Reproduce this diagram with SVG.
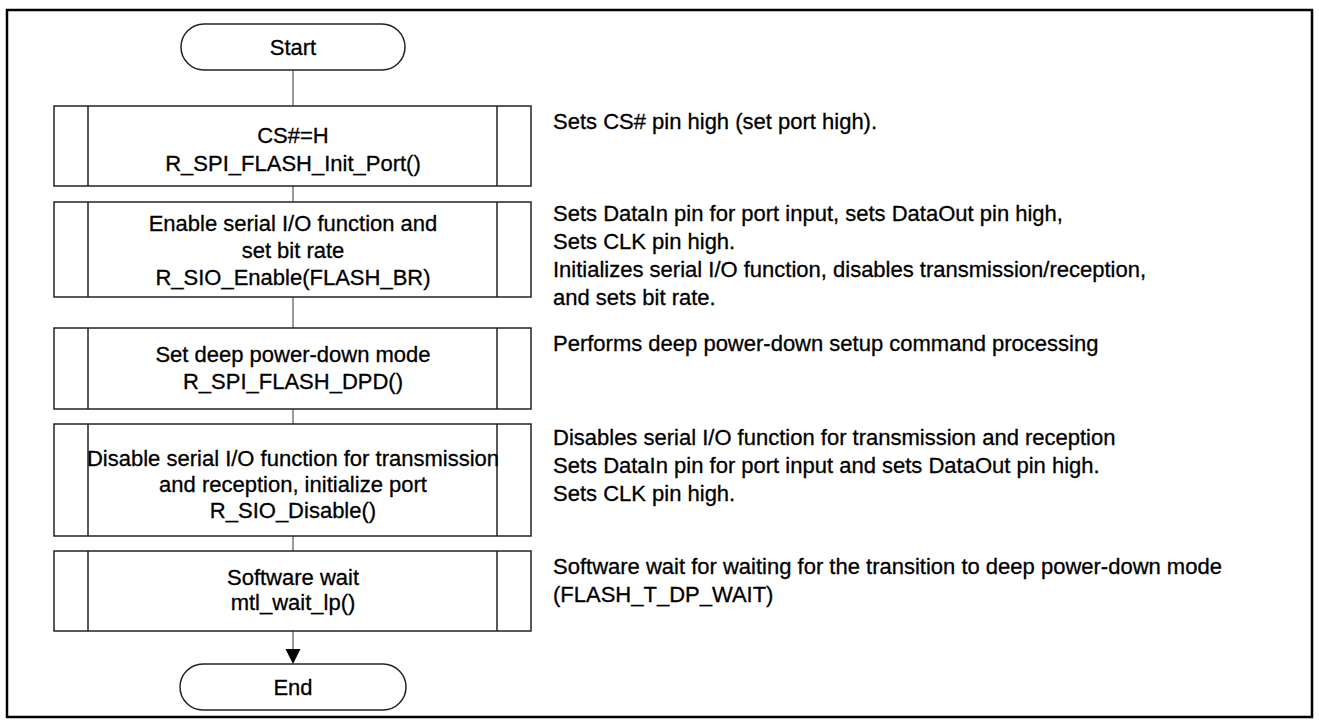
<svg xmlns="http://www.w3.org/2000/svg" width="1319" height="722" viewBox="0 0 1319 722">
<defs>
<style>
text{font-family:"Liberation Sans",Arial,sans-serif;font-size:22px;fill:#000;stroke:#000;stroke-width:0.3}
.c{text-anchor:middle}
.box{fill:#fff;stroke:#222;stroke-width:1.5}
.in{stroke:#222;stroke-width:1.5}
.term{fill:#fff;stroke:#222;stroke-width:1.5}
.con{stroke:#777;stroke-width:1.5;fill:none}
</style>
</defs>
<rect x="0" y="0" width="1319" height="722" fill="#fff"/>
<rect id="frame" x="7" y="10" width="1305" height="707" fill="none" stroke="#000" stroke-width="2.5"/>
<g id="connectors">
<line class="con" x1="293" y1="70" x2="293" y2="106"/>
<line class="con" x1="293" y1="186" x2="293" y2="202"/>
<line class="con" x1="293" y1="297" x2="293" y2="328"/>
<line class="con" x1="293" y1="409" x2="293" y2="424"/>
<line class="con" x1="293" y1="536" x2="293" y2="551"/>
<line class="con" x1="293" y1="631" x2="293" y2="650"/>
<path d="M285.5,649 L300.5,649 L293,664 Z" fill="#000"/>
</g>
<g id="start">
<rect class="term" x="181" y="24" width="224" height="46" rx="23"/>
<text class="c" x="293" y="55">Start</text>
</g>
<g id="box1">
<rect class="box" x="54" y="106" width="477" height="80"/>
<line class="in" x1="88" y1="106" x2="88" y2="186"/>
<line class="in" x1="497" y1="106" x2="497" y2="186"/>
<text class="c" x="293" y="143">CS#=H</text>
<text class="c" x="293" y="171">R_SPI_FLASH_Init_Port()</text>
</g>
<g id="box2">
<rect class="box" x="54" y="202" width="477" height="95"/>
<line class="in" x1="88" y1="202" x2="88" y2="297"/>
<line class="in" x1="497" y1="202" x2="497" y2="297"/>
<text class="c" x="293" y="231">Enable serial I/O function and</text>
<text class="c" x="293" y="258">set bit rate</text>
<text class="c" x="293" y="285">R_SIO_Enable(FLASH_BR)</text>
</g>
<g id="box3">
<rect class="box" x="54" y="328" width="477" height="81"/>
<line class="in" x1="88" y1="328" x2="88" y2="409"/>
<line class="in" x1="497" y1="328" x2="497" y2="409"/>
<text class="c" x="293" y="362">Set deep power-down mode</text>
<text class="c" x="293" y="389">R_SPI_FLASH_DPD()</text>
</g>
<g id="box4">
<rect class="box" x="54" y="424" width="477" height="112"/>
<line class="in" x1="88" y1="424" x2="88" y2="536"/>
<line class="in" x1="497" y1="424" x2="497" y2="536"/>
<text class="c" x="293" y="466">Disable serial I/O function for transmission</text>
<text class="c" x="293" y="492">and reception, initialize port</text>
<text class="c" x="293" y="518">R_SIO_Disable()</text>
</g>
<g id="box5">
<rect class="box" x="54" y="551" width="477" height="80"/>
<line class="in" x1="88" y1="551" x2="88" y2="631"/>
<line class="in" x1="497" y1="551" x2="497" y2="631"/>
<text class="c" x="293" y="585">Software wait</text>
<text class="c" x="293" y="610">mtl_wait_lp()</text>
</g>
<g id="end">
<rect class="term" x="180" y="664" width="226" height="46" rx="23"/>
<text class="c" x="293" y="695">End</text>
</g>
<g id="notes">
<text x="553" y="129">Sets CS# pin high (set port high).</text>
<text x="553" y="221">Sets DataIn pin for port input, sets DataOut pin high,</text>
<text x="553" y="249">Sets CLK pin high.</text>
<text x="553" y="277">Initializes serial I/O function, disables transmission/reception,</text>
<text x="553" y="305">and sets bit rate.</text>
<text x="553" y="351">Performs deep power-down setup command processing</text>
<text x="553" y="445">Disables serial I/O function for transmission and reception</text>
<text x="553" y="473">Sets DataIn pin for port input and sets DataOut pin high.</text>
<text x="553" y="501">Sets CLK pin high.</text>
<text x="553" y="574">Software wait for waiting for the transition to deep power-down mode</text>
<text x="553" y="602">(FLASH_T_DP_WAIT)</text>
</g>
</svg>
